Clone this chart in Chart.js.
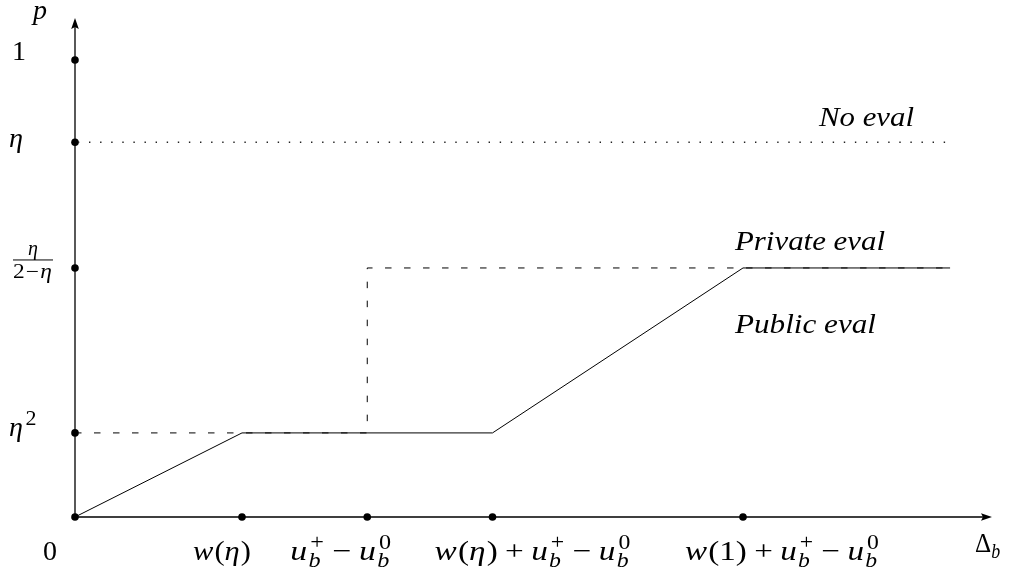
<!DOCTYPE html>
<html><head><meta charset="utf-8">
<script src="https://cdn.jsdelivr.net/npm/chart.js@4/dist/chart.umd.min.js"></script>
<style>html,body{margin:0;padding:0;background:#fff}#wrap{width:1013px;height:575px;position:relative}</style>
</head><body><div id="wrap"><canvas id="c"></canvas></div>
<script>
// ---- tick positions and labels ----
const xTickValues = [1, 1.75, 2.5, 4];
const xTickLabels = ['w(η)', 'u_b^+ − u_b^0', 'w(η) + u_b^+ − u_b^0', 'w(1) + u_b^+ − u_b^0'];
const yTickValues = [0.184, 0.545, 0.82, 1];
const yTickLabels = ['η^2', 'FRAC:η:2−η', 'η', '1'];
const originLabel = '0';
const xAxisTitle = 'Δ_b';
const yAxisTitle = 'p';

// ---- series ----
const seriesNames = ['Public eval', 'Private eval', 'No eval'];
const publicX = [0, 1, 2.5, 4, 5.24];
const publicY = [0, 0.184, 0.184, 0.545, 0.545];
const privateX = [0, 1.75, 1.75, 5.24];
const privateY = [0.184, 0.184, 0.545, 0.545];
const noEvalX = [0, 5.24];
const noEvalY = [0.82, 0.82];

// ---- helpers ----
const FS = 28;
const FAM = '"Liberation Serif", "Times New Roman", serif';
function fnt(size, it) { return (it ? 'italic ' : '') + size + 'px ' + FAM; }
function isLetter(c) { return /[a-zA-Zα-ω]/.test(c); }

function tokenize(s) {
  const out = []; let i = 0;
  while (i < s.length) {
    const c = s[i];
    if (c === '_' || c === '^') {
      const arg = s[i + 1]; i += 2;
      let last = out[out.length - 1];
      if (!last || last.type !== 'scr') { last = {type: 'scr', sub: '', sup: ''}; out.push(last); }
      if (c === '_') last.sub = arg; else last.sup = arg;
      continue;
    }
    if (c === ' ') { i++; continue; }
    if (c === '+' || c === '−') { out.push({type: 'op', t: c}); i++; continue; }
    out.push({type: 'ch', t: c, it: isLetter(c)}); i++;
  }
  return out;
}
function measure(ctx, toks, size, opGap, supK) {
  const s2 = Math.round(size * supK);
  let total = 0;
  toks.forEach(t => {
    if (t.type === 'ch') { ctx.font = fnt(size, t.it); t.w = ctx.measureText(t.t).width + (t.it ? 1 : 0); }
    else if (t.type === 'op') { ctx.font = fnt(size, false); t.g = size * opGap; t.w = ctx.measureText(t.t).width + 2 * t.g; }
    else {
      let a = 0, b = 0;
      if (t.sup) { ctx.font = fnt(s2, isLetter(t.sup)); a = ctx.measureText(t.sup).width + 1.5; }
      if (t.sub) { ctx.font = fnt(s2, isLetter(t.sub)); b = ctx.measureText(t.sub).width; }
      t.w = Math.max(a, b) + 1;
    }
    total += t.w;
  });
  return total;
}
function drawMath(ctx, s, left, base, size, targetW, opGap, supK) {
  supK = supK || 0.7;
  const toks = tokenize(s);
  const nat = measure(ctx, toks, size, opGap === undefined ? 0.22 : opGap, supK);
  const k = targetW ? targetW / nat : 1;
  const s2 = Math.round(size * supK);
  ctx.save();
  ctx.translate(left, base); ctx.scale(k, 1);
  let x = 0;
  ctx.textAlign = 'left'; ctx.textBaseline = 'alphabetic'; ctx.fillStyle = '#000';
  toks.forEach(t => {
    if (t.type === 'ch') { ctx.font = fnt(size, t.it); ctx.fillText(t.t, x, 0); }
    else if (t.type === 'op') { ctx.font = fnt(size, false); ctx.fillText(t.t, x + t.g, 0); }
    else {
      if (t.sup) { ctx.font = fnt(s2, isLetter(t.sup)); ctx.fillText(t.sup, x + 1.5, -size * 0.4); }
      if (t.sub) { ctx.font = fnt(s2, isLetter(t.sub)); ctx.fillText(t.sub, x, size * (t.sup ? 0.26 : 0.2)); }
    }
    x += t.w;
  });
  ctx.restore();
}
function drawStretched(ctx, str, left, base, font, targetW) {
  ctx.save();
  ctx.font = font; ctx.textAlign = 'left'; ctx.fillStyle = '#000';
  const nat = ctx.measureText(str).width;
  ctx.translate(left, base); ctx.scale(targetW / nat, 1);
  ctx.fillText(str, 0, 0);
  ctx.restore();
}
function drawFrac(ctx, spec, left, barY, width, size) {
  const [, num, den] = spec.split(':');
  const s2 = Math.round(size * 0.72);
  ctx.strokeStyle = '#000'; ctx.lineWidth = 1;
  ctx.beginPath(); ctx.moveTo(left, barY); ctx.lineTo(left + width, barY); ctx.stroke();
  ctx.font = fnt(s2, true); ctx.textAlign = 'center'; ctx.fillStyle = '#000';
  ctx.fillText(num, left + width / 2, barY - 5);
  drawMath(ctx, den, left, barY + 18, s2, width, 0.05);
}

// ---- overlay plugin: axes, arrows, tick labels and text ----
const overlay = {
  id: 'overlay',
  beforeDatasetsDraw(chart) {
    const ctx = chart.ctx, xs = chart.scales.x, ys = chart.scales.y;
    const x0 = xs.getPixelForValue(0), y0 = ys.getPixelForValue(0);
    const xe = xs.getPixelForValue(xs.max), ye = ys.getPixelForValue(ys.max);
    ctx.save();
    ctx.strokeStyle = '#000'; ctx.fillStyle = '#000'; ctx.lineWidth = 1.3;
    ctx.beginPath(); ctx.moveTo(x0, y0); ctx.lineTo(xe - 6, y0); ctx.moveTo(x0, y0); ctx.lineTo(x0, ye + 6); ctx.stroke();
    ctx.beginPath(); ctx.moveTo(xe, y0); ctx.lineTo(xe - 11, y0 - 3.8); ctx.lineTo(xe - 9, y0); ctx.lineTo(xe - 11, y0 + 3.8); ctx.closePath(); ctx.fill();
    ctx.beginPath(); ctx.moveTo(x0, ye); ctx.lineTo(x0 - 3.8, ye + 11); ctx.lineTo(x0, ye + 9); ctx.lineTo(x0 + 3.8, ye + 11); ctx.closePath(); ctx.fill();
    ctx.restore();
  },
  afterDraw(chart) {
    const ctx = chart.ctx, xs = chart.scales.x, ys = chart.scales.y;
    const x0 = xs.getPixelForValue(0), y0 = ys.getPixelForValue(0);
    ctx.save();
    // x tick labels
    const xdx = [-49, -77, -58, -58], xw = [58, 102, 197, 195];
    xTickValues.forEach((v, i) => drawMath(ctx, xTickLabels[i], xs.getPixelForValue(v) + xdx[i], y0 + 43, FS, xw[i]));
    // y tick labels
    const yLeft = [9, 13, 9, 12], yDy = [3, -8, 5, 0], yW = [0, 0, 15, 0];
    yTickValues.forEach((v, i) => {
      const lab = yTickLabels[i], py = ys.getPixelForValue(v) + yDy[i];
      if (lab.startsWith('FRAC')) drawFrac(ctx, lab, x0 - 62, py, 40, FS);
      else drawMath(ctx, lab, x0 - 75 + yLeft[i], py, FS, yW[i], 0.22, i === 0 ? 0.78 : 0.7);
    });
    drawMath(ctx, originLabel, x0 - 32, y0 + 43, FS, 14);
    drawMath(ctx, yAxisTitle, x0 - 42, ys.getPixelForValue(ys.max) + 1, FS, 15);
    drawMath(ctx, xAxisTitle, xs.getPixelForValue(xs.max) - 17, y0 + 35, FS, 26);
    // series labels
    const yPriv = ys.getPixelForValue(privateY[privateY.length - 1]);
    const yNo = ys.getPixelForValue(noEvalY[0]);
    const xK = xs.getPixelForValue(4);
    drawStretched(ctx, seriesNames[2], xK + 76, yNo - 16, fnt(FS, true), 95);
    drawStretched(ctx, seriesNames[1], xK - 8, yPriv - 18, fnt(FS, true), 150);
    drawStretched(ctx, seriesNames[0], xK - 8, yPriv + 65, fnt(FS, true), 141);
    ctx.restore();
  }
};

const toPts = (xs, ys) => xs.map((x, i) => ({x, y: ys[i]}));
const dotPts = [{x: 0, y: 0}].concat(xTickValues.map(x => ({x, y: 0})), yTickValues.map(y => ({x: 0, y})));

new Chart(document.getElementById('c'), {
  type: 'scatter',
  data: {
    datasets: [
      {label: seriesNames[0], data: toPts(publicX, publicY), showLine: true, borderColor: '#000', borderWidth: 1, pointRadius: 0, clip: false},
      {label: seriesNames[1], data: toPts(privateX, privateY), showLine: true, borderColor: '#000', borderWidth: 1, borderDash: [6.5, 12.5], pointRadius: 0, clip: false},
      {label: seriesNames[2], data: toPts(noEvalX, noEvalY), showLine: true, borderColor: '#222', borderWidth: 1.4, borderDash: [1.4, 9.7], borderDashOffset: 8.2, pointRadius: 0, clip: false},
      {label: 'ticks', data: dotPts, showLine: false, pointRadius: 3.8, pointBackgroundColor: '#000', pointBorderWidth: 0, clip: false}
    ]
  },
  options: {
    responsive: true, maintainAspectRatio: false, animation: false,
    layout: {padding: {left: 75, right: 21, top: 18, bottom: 58}},
    plugins: {legend: {display: false}, tooltip: {enabled: false}},
    scales: {
      x: {type: 'linear', min: 0, max: 5.491, display: false},
      y: {type: 'linear', min: 0, max: 1.092, display: false}
    }
  },
  plugins: [overlay]
});
</script></body></html>
